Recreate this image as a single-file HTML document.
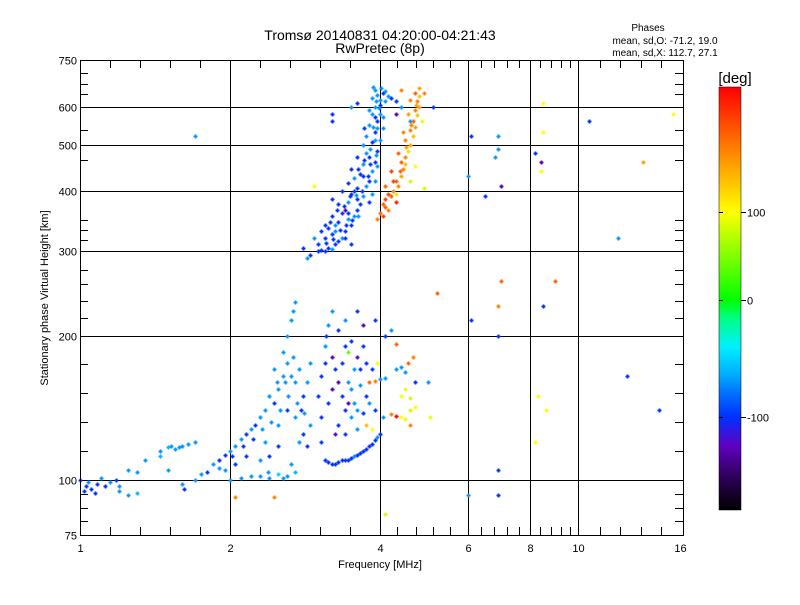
<!DOCTYPE html>
<html><head><meta charset="utf-8"><style>
body{margin:0;background:#fff}
svg text{font-family:"Liberation Sans",sans-serif;fill:#000}
</style></head><body>
<svg id="chart" width="800" height="600" xmlns="http://www.w3.org/2000/svg">
<rect width="800" height="600" fill="#fff"/>
<text x="380" y="40" font-size="14" text-anchor="middle">Tromsø 20140831 04:20:00-04:21:43</text>
<text x="380" y="53" font-size="14" text-anchor="middle">RwPretec (8p)</text>
<text x="648" y="31" font-size="10" text-anchor="middle">Phases</text>
<text x="665" y="44" font-size="10" text-anchor="middle">mean, sd,O: -71.2, 19.0</text>
<text x="665" y="56" font-size="10" text-anchor="middle">mean, sd,X: 112.7, 27.1</text>
<g id="grid"></g>
<g id="points"></g>
<g id="axes"></g>
<text x="380" y="568" font-size="11" text-anchor="middle">Frequency [MHz]</text>
<text x="48" y="298" font-size="11" text-anchor="middle" transform="rotate(-90 48 298)">Stationary phase Virtual Height [km]</text>
<defs><linearGradient id="cbg" x1="0" y1="1" x2="0" y2="0"></linearGradient></defs>
<g id="colorbar"></g>
<text x="735" y="83" font-size="15" text-anchor="middle">[deg]</text>
</svg>
<script>
const xTicks=[1,2,4,6,8,10,16];
const yTicks=[75,100,200,300,400,500,600,750];
const cbTicks=[100,0,-100];
const oTrace=[[3.0,300,-100],[3.05,302,-100],[3.1,300,-100],[3.15,305,-100],[3.2,303,-70],[3.25,310,-100],[3.3,315,-100],[3.0,310,-100],[2.95,320,-70],[3.1,320,-100],[3.2,325,-100],[3.35,320,-70],[3.4,330,-100],[3.15,335,-100],[3.25,340,-70],[3.05,330,-100],[3.3,345,-100],[3.5,340,-100],[3.45,350,-70],[3.2,355,-100],[3.35,360,-100],[3.55,355,-70],[3.6,365,-100],[3.3,375,-100],[3.45,380,-70],[3.65,375,-100],[3.2,385,-100],[3.5,395,-100],[3.7,390,-70],[3.35,400,-100],[3.6,405,-100],[3.75,410,-70],[3.45,415,-100],[3.55,425,-70],[3.8,420,-100],[3.65,435,-100],[3.85,440,-70],[3.5,445,-100],[3.7,455,-70],[3.9,460,-100],[3.6,470,-100],[3.75,480,-70],[3.95,485,-100],[3.7,500,-70],[3.85,505,-100],[4.0,510,-70],[3.75,520,-70],[3.9,530,-100],[4.05,540,-70],[3.8,550,-70],[3.95,560,-100],[4.05,570,-70],[3.85,580,-70],[3.9,600,-70],[4.0,605,-100],[4.1,615,-70],[3.85,625,-70],[3.95,635,-70],[4.05,640,-100],[4.15,630,-70],[3.9,650,-70],[4.1,645,-70],[4.0,620,-70],[3.8,590,-70],[3.95,450,-70],[3.9,420,-70],[3.8,380,-100],[3.4,365,-130],[3.1,340,-100],[2.9,295,-100],[2.85,290,-70],[2.8,305,-100],[3.5,310,-100],[3.5,600,-70],[3.6,610,-100],[4.3,615,-100],[4.2,625,-100],[4.4,600,-70],[3.2,560,-100],[3.2,580,-100],[4.3,580,-130],[4.6,560,-70],[1.7,520,-70],[3.4,320,-100],[3.6,385,-100],[3.7,430,-100],[3.8,470,-100],[3.9,510,-70],[3.55,400,-100],[3.45,360,-100],[3.25,330,-70],[3.85,395,-70],[3.95,540,-70],[4.0,580,-70],[3.9,570,-100],[3.12,312,-100],[3.22,318,-100],[3.32,332,-100],[3.42,340,-100],[3.52,348,-100],[3.62,355,-70],[3.18,345,-100],[3.28,365,-100],[3.38,372,-100],[3.48,390,-100],[3.58,392,-70],[3.68,400,-100],[3.78,430,-100],[3.62,445,-100],[3.72,465,-100],[3.82,490,-70],[3.88,545,-70],[3.98,595,-70],[3.92,615,-70],[4.02,655,-70],[3.88,660,-70],[3.72,540,-100],[3.82,455,-100],[3.92,475,-70]];
const xTrace=[[3.95,350,140],[4.0,360,150],[4.05,355,160],[4.1,370,150],[4.15,365,140],[4.1,385,160],[4.2,390,150],[4.25,400,140],[4.3,395,110],[4.35,410,140],[4.3,420,150],[4.4,430,130],[4.45,445,140],[4.5,455,120],[4.4,460,150],[4.5,470,140],[4.55,485,110],[4.6,500,130],[4.5,510,140],[4.65,520,120],[4.6,535,140],[4.7,545,130],[4.65,560,150],[4.75,575,120],[4.7,590,140],[4.8,600,130],[4.75,615,140],[4.8,630,120],[4.7,640,150],[4.6,620,140],[4.55,580,130],[4.45,530,140],[4.35,480,150],[4.2,440,160],[4.1,410,150],[4.6,420,80],[4.7,450,100],[4.85,560,90],[4.3,380,170],[4.9,405,80],[4.4,650,140],[4.25,420,160],[4.38,440,150],[4.52,495,130],[4.62,550,140],[4.72,605,130],[4.78,655,130],[4.15,395,160],[4.05,375,150]];
const lowLayer=[[1.0,100,-100],[1.02,95,-100],[1.05,96,-100],[1.04,99,-70],[1.08,98,-100],[1.1,101,-70],[1.12,97,-100],[1.15,99,-70],[1.18,100,-100],[1.2,97,-70],[1.25,105,-70],[1.3,104,-70],[1.35,110,-70],[1.2,95,-70],[1.25,93,-70],[1.3,94,-60],[1.45,112,-60],[1.5,117,-60],[1.55,116,-70],[1.6,118,-70],[1.65,119,-70],[1.7,120,-70],[1.5,105,-70],[1.6,98,-70],[1.62,96,-100],[1.7,100,-70],[1.75,103,-70],[1.8,104,-100],[1.85,108,-70],[1.9,110,-100],[1.95,113,-100],[2.0,115,-70],[2.05,118,-70],[2.1,122,-70],[2.15,125,-100],[2.2,128,-70],[1.9,106,-70],[2.0,100,-70],[2.1,101,-70],[2.2,102,-70],[2.3,102,-70],[2.4,101,-70],[2.5,103,-50],[2.6,102,-70],[2.7,104,-60],[2.25,130,-100],[2.3,135,-70],[2.35,140,-70],[2.4,150,-70],[2.45,145,-100],[2.5,155,-70],[2.55,165,-70],[2.6,175,-70],[2.65,165,-70],[2.7,160,-70],[2.75,170,-70],[2.8,150,-100],[2.85,160,-70],[2.9,175,-70],[2.5,130,-70],[2.6,140,-100],[2.7,135,-70],[2.8,125,-100],[2.9,130,-70],[2.6,200,-70],[2.65,215,-70],[2.7,235,-70],[2.68,225,-70],[2.55,185,-70],[2.45,170,-70],[2.35,120,-70],[2.4,112,-100],[2.5,118,-100],[2.3,110,-70],[2.15,112,-100],[2.05,108,-100],[1.95,105,-70],[2.75,120,-70],[2.85,118,-100],[2.65,108,-70],[2.78,140,-100],[1.03,97,-100],[1.07,94,-100],[1.45,115,-70],[1.52,118,-70],[1.58,117,-70],[2.02,112,-100],[2.12,118,-100],[2.22,122,-100],[2.32,128,-70],[2.42,132,-70],[2.52,140,-70],[2.62,150,-70],[2.72,145,-70],[2.82,138,-70],[2.58,160,-70],[2.48,160,-70],[2.68,180,-70],[2.38,104,-70],[2.55,101,-70]];
const midLayer=[[3.1,110,-100],[3.2,108,-100],[3.3,109,-100],[3.4,110,-100],[3.5,111,-100],[3.6,113,-100],[3.7,115,-100],[3.8,118,-100],[3.9,121,-100],[4.0,125,-100],[3.55,112,-70],[3.75,116,-100],[3.95,123,-70],[3.05,135,-100],[3.0,150,-100],[3.05,165,-100],[3.1,190,-70],[3.15,210,-70],[3.12,200,-100],[3.2,180,-130],[3.25,170,-100],[3.3,160,-130],[3.35,175,-100],[3.4,190,-100],[3.45,185,40],[3.5,195,-100],[3.6,180,-120],[3.7,190,-100],[3.3,130,-100],[3.4,140,-100],[3.5,135,-70],[3.6,128,-70],[3.7,138,-100],[3.8,145,-70],[3.9,140,-100],[3.35,150,-100],[3.5,155,-70],[3.65,158,-70],[3.8,160,150],[3.9,161,140],[4.0,162,-70],[4.1,163,-70],[3.25,125,-120],[3.4,125,-100],[3.75,130,120],[3.85,128,100],[4.05,135,-70],[4.2,137,140],[4.3,136,180],[4.4,135,100],[4.5,134,90],[4.6,140,80],[4.7,142,100],[4.4,150,100],[4.5,155,90],[4.6,148,80],[4.3,170,-70],[4.4,172,-70],[4.5,168,-70],[4.55,175,150],[4.65,180,140],[4.7,160,-100],[4.6,130,140],[4.3,192,150],[4.1,200,-100],[3.9,215,-100],[3.7,210,-130],[3.6,225,-100],[3.4,215,-70],[3.3,205,-100],[3.2,225,-70],[3.55,170,-70],[3.95,175,100],[4.2,205,-70],[3.15,145,-100],[3.2,155,-130],[3.45,145,-130],[3.75,150,-100],[3.85,170,-100],[3.15,109,-100],[3.25,108,-100],[3.35,110,-100],[3.45,110,-100],[3.65,114,-100],[3.85,119,-100],[3.6,140,-70],[3.55,145,-70],[3.45,160,-70],[3.65,170,-100],[3.75,175,-100],[3.1,175,-100],[3.05,120,-100]];
const sparse=[[2.95,410,100],[2.05,92,140],[2.45,92,140],[4.1,85,80],[6.0,93,-70],[6.9,93,-100],[6.9,105,-100],[6.0,430,-70],[6.9,200,-100],[6.9,230,140],[7.0,260,150],[7.0,410,-130],[6.9,490,-70],[6.9,520,-70],[6.8,470,-70],[6.1,520,-100],[6.5,390,-100],[8.2,480,-100],[8.4,460,-130],[8.5,530,100],[8.5,610,100],[8.4,440,100],[8.5,230,-100],[8.3,150,100],[8.6,140,100],[8.2,120,100],[9.0,260,150],[10.5,560,-100],[12.0,320,-70],[12.5,165,-100],[13.5,460,130],[14.5,140,-100],[15.5,580,100],[6.1,215,-100],[5.2,245,150],[5.0,160,-70],[5.05,135,90],[5.1,600,-100],[4.9,640,140]];
const colorStops=[[-180,'#000000'],[-150,'#300060'],[-125,'#6000c0'],[-100,'#0030ff'],[-80,'#0070ff'],[-65,'#00a8ff'],[-40,'#00f0ff'],[-15,'#00ff80'],[0,'#00ff00'],[50,'#80ff00'],[100,'#ffff00'],[130,'#ffa000'],[160,'#ff4000'],[180,'#ff0000']];
const cbMap=[[180,87],[100,212],[0,300],[-100,417],[-180,510]];

const X0=80,X1=683,Y0=60,Y1=535,XW=600;
function xs(f){return X0+XW*Math.log2(f)/4;}
function ys(h){return Y0+480*Math.log10(750/h);}
function hex(c){return [1,3,5].map(i=>parseInt(c.substr(i,2),16));}
function color(p){
  if(p<=colorStops[0][0])return colorStops[0][1];
  for(let i=1;i<colorStops.length;i++){
    if(p<=colorStops[i][0]){
      const a=colorStops[i-1],b=colorStops[i],t=(p-a[0])/(b[0]-a[0]);
      const ca=hex(a[1]),cb=hex(b[1]);
      return 'rgb('+ca.map((v,k)=>Math.round(v+(cb[k]-v)*t)).join(',')+')';
    }
  }
  return colorStops[colorStops.length-1][1];
}
function cby(p){
  for(let i=1;i<cbMap.length;i++){
    if(p>=cbMap[i][0]){const a=cbMap[i-1],b=cbMap[i];return a[1]+(b[1]-a[1])*(a[0]-p)/(a[0]-b[0]);}
  }
  return cbMap[cbMap.length-1][1];
}
const NS='http://www.w3.org/2000/svg';
function mk(tag,attrs,parent){const e=document.createElementNS(NS,tag);for(const k in attrs)e.setAttribute(k,attrs[k]);parent.appendChild(e);return e;}
const gridG=document.getElementById('grid'),axesG=document.getElementById('axes'),ptsG=document.getElementById('points'),cbG=document.getElementById('colorbar');

xTicks.forEach(v=>{
  const x=Math.min(X1,Math.round(xs(v)))+0.5;
  if(v>1&&v<16){
    const l=mk('line',{x1:x,y1:Y0,x2:x,y2:Y1,stroke:'#000','stroke-width':1},gridG);
    
    
  }
  const t=mk('text',{x:x,y:Y1+17,'font-size':11,'text-anchor':'middle'},axesG);
  t.textContent=v;
  
  
});
yTicks.forEach(v=>{
  const y=Math.min(Y1,Math.round(ys(v)))+0.5;
  if(v>75&&v<750){
    const l=mk('line',{x1:X0,y1:y,x2:X1,y2:y,stroke:'#000','stroke-width':1},gridG);
    
    
  }
  const t=mk('text',{x:X0-3,y:y+4,'font-size':11,'text-anchor':'end'},axesG);
  t.textContent=v;
  
  
});
const minorX=[110,140,170,200,260,290,320,350,397,416,433,450,481,494,507,519,540,551,561,570,600,620,641,661];
minorX.forEach(x=>{
  mk('line',{x1:x+.5,y1:Y1,x2:x+.5,y2:Y1-8,stroke:'#000'},axesG);
  mk('line',{x1:x+.5,y1:Y0,x2:x+.5,y2:Y0+8,stroke:'#000'},axesG);
});
const minorY=[73,84,94,284,301,318,364,393,422,451,494,508,521,130,160,220,230,240,270];
minorY.forEach(y=>{
  mk('line',{x1:X0,y1:y+.5,x2:X0+8,y2:y+.5,stroke:'#000'},axesG);
  mk('line',{x1:X1,y1:y+.5,x2:X1-8,y2:y+.5,stroke:'#000'},axesG);
});
const frame=mk('rect',{x:X0+.5,y:Y0+.5,width:X1-X0,height:Y1-Y0,fill:'none',stroke:'#000'},axesG);



function drawSeries(arr,name){
  const g=mk('g',{},ptsG);
  
  
  arr.forEach(d=>{
    const x=Math.round(xs(d[0]))+0.5,y=Math.round(ys(d[1]))+0.5,c=color(d[2]);
    const p=mk('path',{d:'M'+(x-2)+' '+y+'H'+(x+2)+'M'+x+' '+(y-2)+'V'+(y+2),stroke:c,'stroke-width':1.8,fill:'none'},g);
    
    
  });
}
drawSeries(lowLayer,'low-layer-echoes');
drawSeries(midLayer,'mid-layer-echoes');
drawSeries(oTrace,'o-mode-trace');
drawSeries(xTrace,'x-mode-trace');
drawSeries(sparse,'sparse-echoes');

const grad=document.getElementById('cbg');
const cbTop=cby(180),cbBot=cby(-180);
colorStops.forEach(s=>{
  mk('stop',{offset:((cbBot-cby(s[0]))/(cbBot-cbTop)).toFixed(4),'stop-color':s[1]},grad);
});
const bar=mk('rect',{x:719,y:cbTop,width:22,height:cbBot-cbTop,fill:'url(#cbg)',stroke:'#000','stroke-width':0.5},cbG);


cbTicks.forEach(v=>{
  const y=Math.round(cby(v))+0.5;
  mk('line',{x1:741,y1:y,x2:746,y2:y,stroke:'#000'},cbG);
  mk('line',{x1:719,y1:y,x2:723,y2:y,stroke:'#000'},cbG);
  const t=mk('text',{x:747,y:y+4,'font-size':11},cbG);
  t.textContent=v;
  
  
});
</script>
</body></html>
